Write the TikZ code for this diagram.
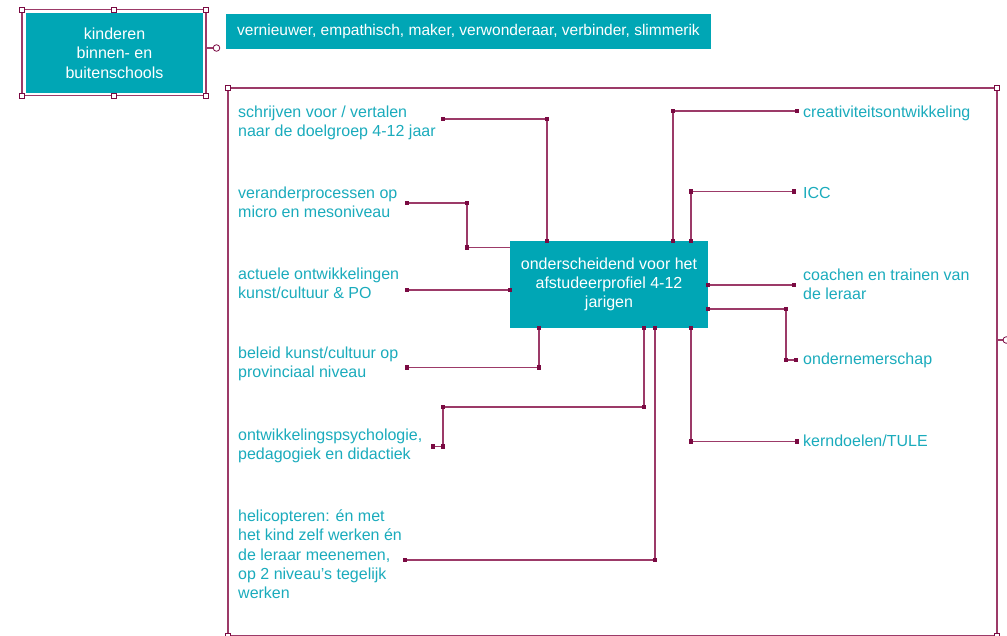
\documentclass[tikz,border=0pt]{standalone}
\usepackage{fontspec}
\setmainfont{Liberation Sans}
\definecolor{tealbox}{HTML}{00A6B5}
\definecolor{tealtxt}{HTML}{1AABBC}
\definecolor{mag}{HTML}{7A0A42}
\definecolor{magl}{HTML}{9C3A68}
\newcommand\tipsq[1]{\fill[mag] #1 ++(-2.2,-2.2) rectangle ++(4.4,4.4);}
\newcommand\handsq[1]{\draw[mag,fill=white,line width=0.8] #1 ++(-2.6,-2.6) rectangle ++(5.2,5.2);}
\tikzset{
  txtfont/.style={font=\fontsize{16}{19.3}\selectfont},
  lbl/.style={txtfont, text=tealtxt, align=left, inner sep=0, anchor=base west},
  tbox/.style={txtfont, fill=tealbox, text=white, align=center, inner sep=0},
  conn/.style={draw=magl, line width=1.1},
  frame/.style={draw=magl, line width=1.1},
}
\begin{document}
\begin{tikzpicture}[x=1pt,y=-1pt]
\useasboundingbox (0,0) rectangle (1007,635);
\clip (0,0) rectangle (1007,635);

% small top-left box with selection frame
\node[tbox, minimum width=177, minimum height=80] (kind) at (114.5,53) {kinderen\\binnen- en\\buitenschools};
\draw[frame] (22,9.5) rectangle (206,95.5);
\draw[frame] (206,48) -- (213,48);
\draw[mag,fill=white,line width=0.8] (216.5,48) circle (3.3);
\foreach \p in {(22,9.5),(114,9.5),(206,9.5),(22,95.5),(114,95.5),(206,95.5)} {\handsq{\p}}

% traits bar
\node[tbox, font=\fontsize{15.5}{19.3}\selectfont, minimum width=485, minimum height=35] (traits) at (468.5,31.5) {vernieuwer, empathisch, maker, verwonderaar, verbinder, slimmerik};

% big frame
\draw[frame] (228,88) rectangle (997,636);
\draw[frame] (997,340) -- (1003,340);
\draw[mag,fill=white,line width=0.8] (1006.3,340) circle (3.3);
\foreach \p in {(228,88),(997,88),(228,636),(997,636)} {\handsq{\p}}

% centre box
\node[tbox, minimum width=198, minimum height=87] (c) at (609,284.5) {onderscheidend voor het\\afstudeerprofiel 4-12\\jarigen\rule[-3pt]{0pt}{1pt}};

% left labels (anchor = baseline of last line)
\node[lbl] (l1) at (238,136.8) {schrijven voor / vertalen\\naar de doelgroep 4-12 jaar};
\node[lbl] (l2) at (238,217.8) {veranderprocessen op\\micro en mesoniveau};
\node[lbl] (l3) at (238,298.8) {actuele ontwikkelingen\\kunst/cultuur \& PO};
\node[lbl] (l4) at (238,377.8) {beleid kunst/cultuur op\\provinciaal niveau};
\node[lbl] (l5) at (238,459.3) {ontwikkelingspsychologie,\\pedagogiek en didactiek};
\node[lbl] (l6) at (238,598.7) {helicopteren: én met\\het kind zelf werken én\\de leraar meenemen,\\op 2 niveau’s tegelijk\\werken};

% right labels
\node[lbl] (r1) at (803,117.5) {creativiteitsontwikkeling};
\node[lbl] (r2) at (803,198.5) {ICC};
\node[lbl] (r3) at (803,299.5) {coachen en trainen van\\de leraar};
\node[lbl] (r4) at (803,364.5) {ondernemerschap};
\node[lbl] (r5) at (803,446.5) {kerndoelen/TULE};

% connector free ends
\coordinate (e1) at (443,119);
\coordinate (e2) at (407,203);
\coordinate (e3) at (407,290);
\coordinate (e4) at (407,367.5);
\coordinate (e5) at (433,446.5);
\coordinate (e6) at (405,560);
\coordinate (f1) at (797,111);
\coordinate (f2) at (794,191.5);
\coordinate (f3) at (794,285);
\coordinate (f4) at (796,360);
\coordinate (f5) at (797,441.5);

% left connectors
\draw[conn] (e1) -- (547,119) -- (c.north -| 547,0);
\draw[conn] (e2) -- (467,203) -- (467,247.5) -- (c.west |- 0,247.5);
\draw[conn] (e3) -- (c.west |- e3);
\draw[conn] (e4) -- (539,367.5) -- (c.south -| 539,0);
\draw[conn] (e5) -- (443,446.5) -- (443,407) -- (644,407) -- (c.south -| 644,0);
\draw[conn] (e6) -- (655,560) -- (c.south -| 655,0);
% right connectors
\draw[conn] (c.north -| 673,0) -- (673,111) -- (f1);
\draw[conn] (c.north -| 691,0) -- (691,191.5) -- (f2);
\draw[conn] (c.east |- f3) -- (f3);
\draw[conn] (c.east |- 0,309) -- (786,309) -- (786,360) -- (f4);
\draw[conn] (c.south -| 691,0) -- (691,441.5) -- (f5);

% end squares
\foreach \p in {(e1),(547,119),(547,241),(e2),(467,203),(467,247.5),(e3),(510,290),
  (e4),(539,367.5),(539,328),(e5),(443,446.5),(443,407),(644,407),(644,328),
  (e6),(655,560),(655,328),(673,241),(673,111),(f1),(691,241),(691,191.5),(f2),
  (708,285),(f3),(708,309),(786,309),(786,360),(f4),(691,328),(691,441.5),(f5)} {\tipsq{\p}}
\end{tikzpicture}
\end{document}
